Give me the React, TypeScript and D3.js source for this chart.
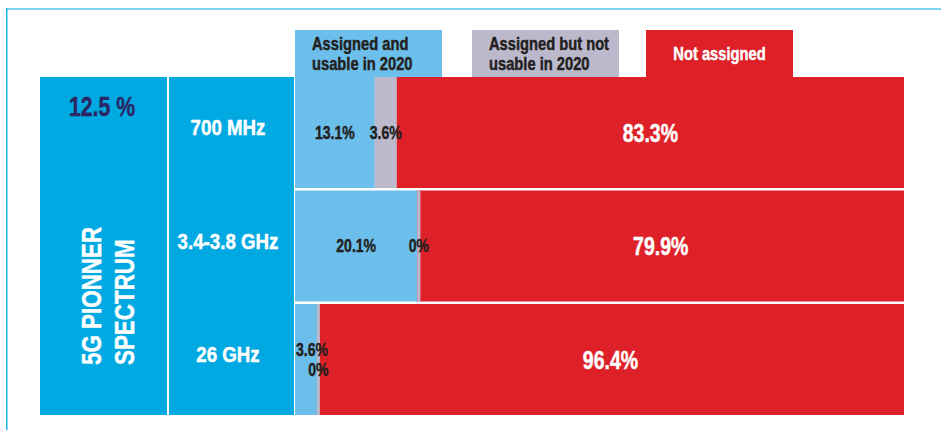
import React from "react";
import * as d3 from "d3";

const bands = ["700 MHz", "3.4-3.8 GHz", "26 GHz"];
const usable = [13.1, 20.1, 3.6];
const notUsable = [3.6, 0, 0];
const notAssigned = [83.3, 79.9, 96.4];
const seriesKeys = ["usable", "notUsable", "notAssigned"];
const legendLabels = [["Assigned and", "usable in 2020"], ["Assigned but not", "usable in 2020"], ["Not assigned"]];
const pioneerShare = "12.5 %";
const pioneerTitle = ["5G PIONNER", "SPECTRUM"];

const W = 941;
const H = 430;
const FONT = "'Liberation Sans', Arial, sans-serif";
const SX = 0.82;
const colors: Record<string, string> = {
  usable: "#6cbfeb",
  notUsable: "#bcb9cd",
  notAssigned: "#de2128",
};
const labelColors: Record<string, string> = {
  usable: "#231f20",
  notUsable: "#231f20",
  notAssigned: "#ffffff",
};

function T(props: {
  x: number;
  y: number;
  size: number;
  fill: string;
  anchor?: "start" | "middle" | "end";
  rotate?: number;
  dy?: string;
  sx?: number;
  children: React.ReactNode;
}) {
  const { x, y, size, fill, anchor = "start", rotate = 0, dy, sx = SX, children } = props;
  return (
    <text
      transform={`translate(${x},${y}) rotate(${rotate}) scale(${sx},1)`}
      textAnchor={anchor}
      dy={dy}
      fill={fill}
      stroke={fill}
      strokeWidth={0.45}
      fontSize={size}
      fontWeight="bold"
      fontFamily={FONT}
    >
      {children}
    </text>
  );
}

export default function App() {
  const rows = bands.map((b, i) => ({
    band: b,
    usable: usable[i],
    notUsable: notUsable[i],
    notAssigned: notAssigned[i],
  }));
  const stack = d3.stack<any>().keys(seriesKeys);
  const series = stack(rows);

  const x = d3.scaleLinear().domain([0, 100]).range([295, 904]);
  const y = d3.scaleBand<string>().domain(bands).range([77, 415]).paddingInner(0.022);

  const legendX = [295, 472, 646];
  const legendW = 147;

  const marks: React.ReactNode[] = [];
  const slivers: React.ReactNode[] = [];
  const labels: React.ReactNode[] = [];
  rows.forEach((r, i) => {
    const y0 = y(r.band)!;
    const bh = y.bandwidth();
    const cy = y0 + bh / 2;
    const segs = series.map((s) => ({ key: s.key, v0: s[i][0], v1: s[i][1], val: (r as any)[s.key] }));
    const crowded = x(segs[1].v1) - x(segs[0].v0) < 60;
    segs.forEach((sg, j) => {
      const x0 = x(sg.v0);
      let w = x(sg.v1) - x(sg.v0);
      const thin = sg.key === "notUsable" && w < 3;
      if (thin) w = 3;
      const rect = <rect key={`${i}-${j}`} x={x0} y={y0} width={w} height={bh} fill={colors[sg.key]} />;
      if (thin) slivers.push(rect);
      else marks.push(rect);
      const isRed = sg.key === "notAssigned";
      let lx = x0 + w / 2;
      let anchor: "middle" | "start" = "middle";
      let ly = cy;
      if (crowded) {
        if (sg.key === "usable") { lx = x0 + 1; anchor = "start"; ly = cy - 10; }
        if (sg.key === "notUsable") { ly = cy + 10; }
      }
      labels.push(
        <T
          key={`l${i}-${j}`}
          x={lx}
          y={ly}
          dy="0.36em"
          anchor={anchor}
          fill={labelColors[sg.key]}
          size={isRed ? 25 : 18}
          sx={0.78}
        >
          {sg.val}%
        </T>
      );
    });
  });

  return (
    <svg width={W} height={H} style={{ position: "absolute", left: 0, top: 0 }}>
      <rect x={0} y={0} width={W} height={H} fill="#ffffff" />
      <rect x={6} y={8} width={W - 6} height={2} fill="#7fd1f1" />
      <rect x={6} y={8} width={1.5} height={H - 8} fill="#1cb4ea" />

      {legendLabels.map((lines, k) => {
        const key = seriesKeys[k];
        const single = lines.length === 1;
        return (
          <g key={`lg${k}`}>
            <rect x={legendX[k]} y={30} width={legendW} height={47} fill={colors[key]} />
            {lines.map((t, m) => (
              <T
                key={m}
                x={single ? legendX[k] + legendW / 2 : legendX[k] + 17}
                y={single ? 60 : 50 + m * 20}
                anchor={single ? "middle" : "start"}
                fill={labelColors[key]}
                size={17.5}
                sx={0.84}
              >
                {t}
              </T>
            ))}
          </g>
        );
      })}

      <rect x={40} y={77} width={127} height={338} fill="#00a9e2" />
      <rect x={169} y={77} width={125} height={338} fill="#00a9e2" />
      <T x={102} y={116} anchor="middle" fill="#2a2764" size={28} sx={0.76}>
        {pioneerShare}
      </T>
      {pioneerTitle.map((t, k) => (
        <T key={t} x={101 + k * 33} y={365} rotate={-90} anchor="start" fill="#ffffff" size={28} sx={0.8}>
          {t}
        </T>
      ))}
      {bands.map((b) => (
        <T
          key={b}
          x={228}
          y={y(b)! + y.bandwidth() / 2 - 5}
          dy="0.36em"
          anchor="middle"
          fill="#ffffff"
          size={22}
          sx={0.85}
        >
          {b}
        </T>
      ))}

      {marks}
      {slivers}
      {labels}
    </svg>
  );
}
